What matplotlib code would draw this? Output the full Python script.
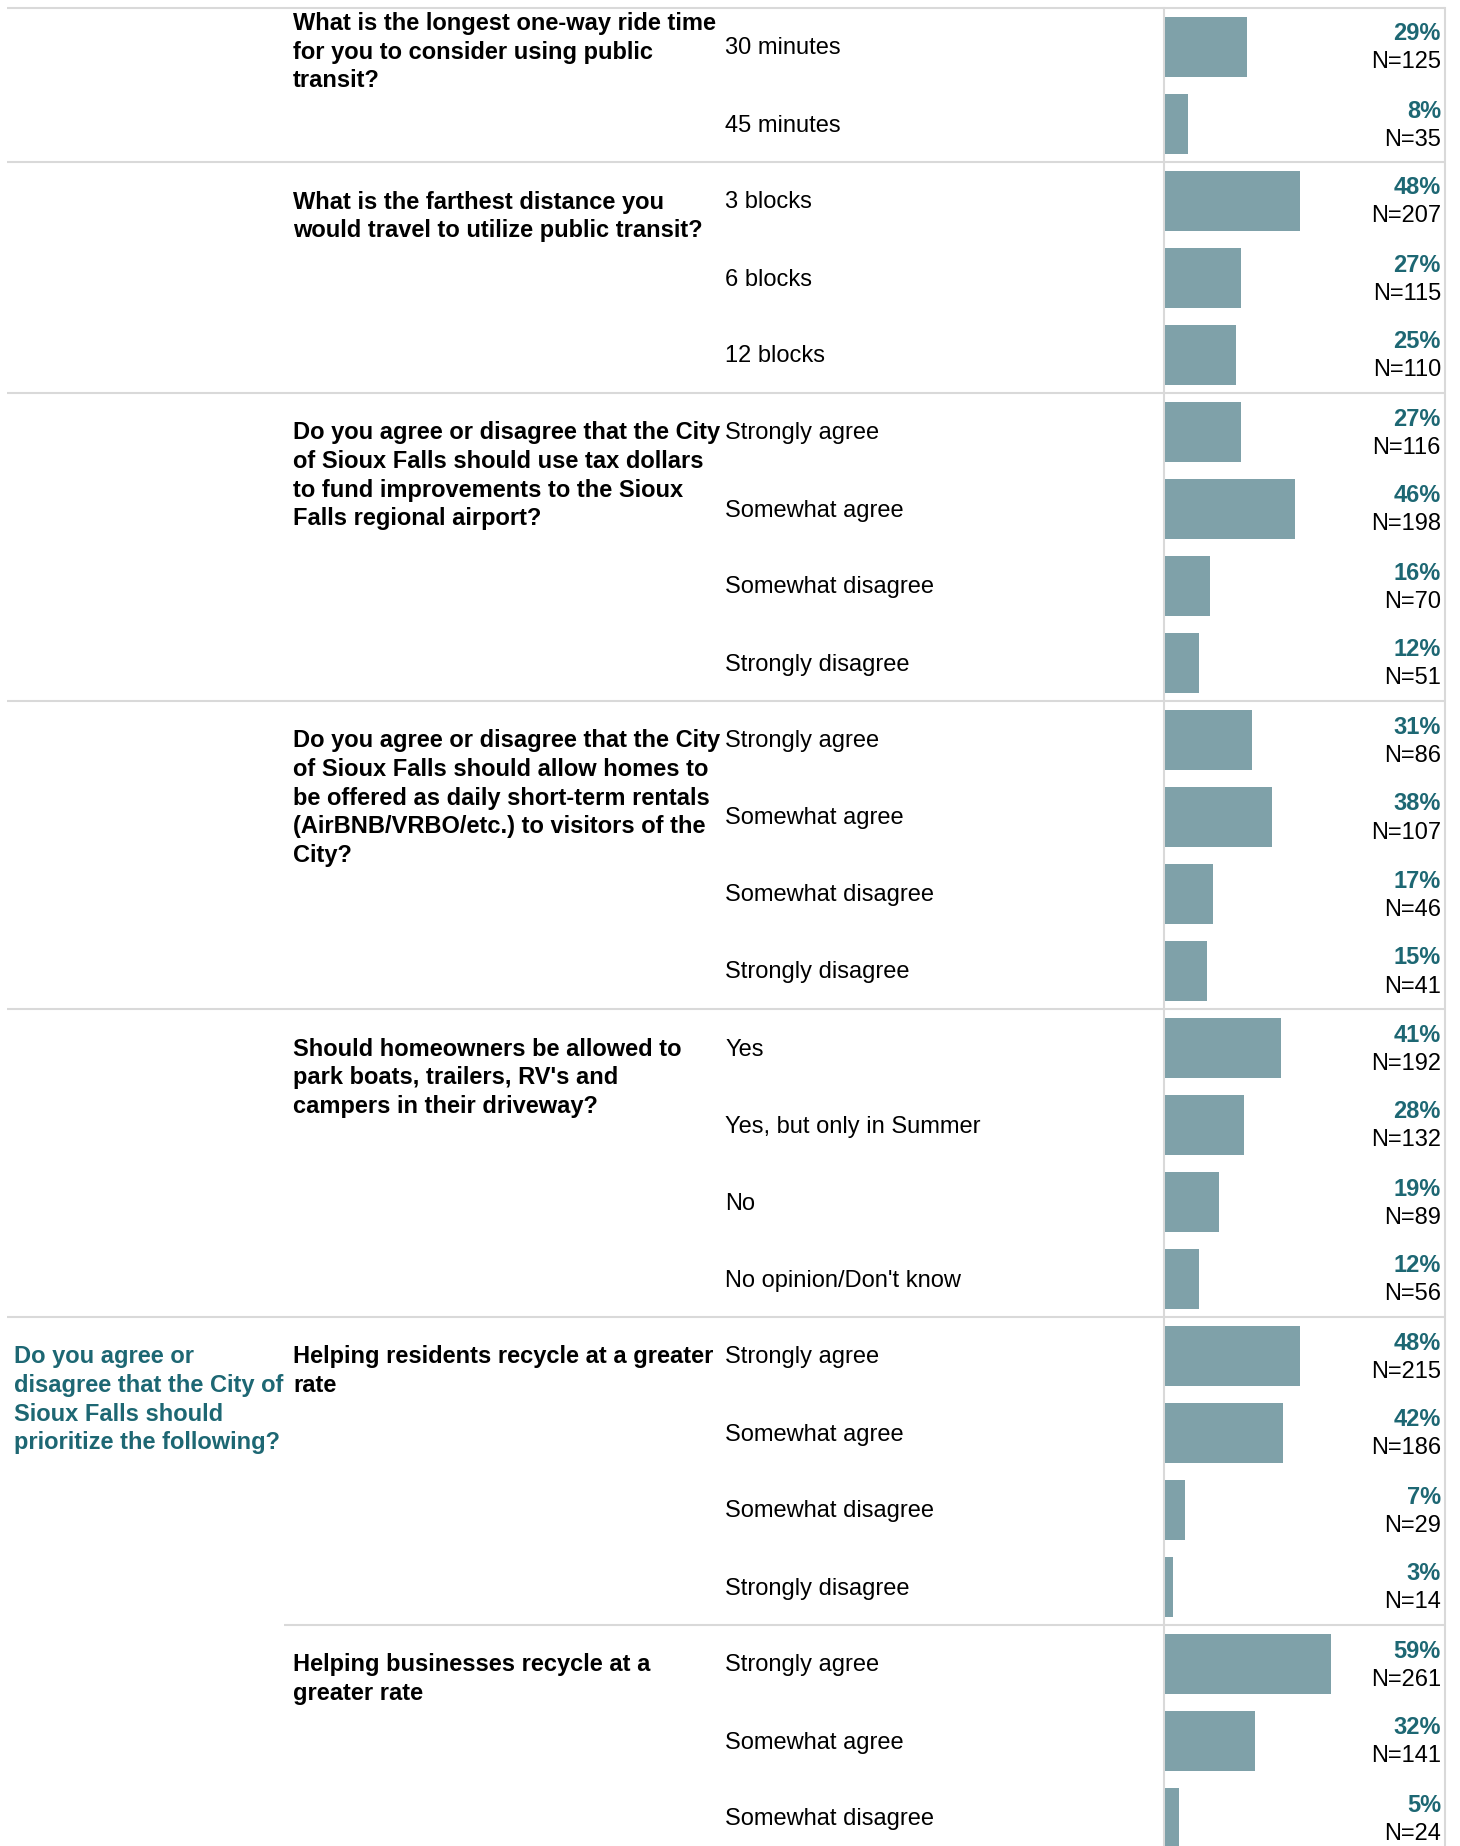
import matplotlib
matplotlib.use("Agg")
import matplotlib.pyplot as plt
import numpy as np

plt.rcParams['font.family'] = ['Liberation Sans', 'DejaVu Sans']

# survey questions, answers, shares and counts (one list per block)
questions = [
    "What is the longest one-way ride time\nfor you to consider using public\ntransit?",
    "What is the farthest distance you\nwould travel to utilize public transit?",
    "Do you agree or disagree that the City\nof Sioux Falls should use tax dollars\nto fund improvements to the Sioux\nFalls regional airport?",
    "Do you agree or disagree that the City\nof Sioux Falls should allow homes to\nbe offered as daily short-term rentals\n(AirBNB/VRBO/etc.) to visitors of the\nCity?",
    "Should homeowners be allowed to\npark boats, trailers, RV's and\ncampers in their driveway?",
    "Helping residents recycle at a greater\nrate",
    "Helping businesses recycle at a\ngreater rate",
]
agree_scale = ["Strongly agree", "Somewhat agree", "Somewhat disagree", "Strongly disagree"]
answers = [
    ["30 minutes", "45 minutes"],
    ["3 blocks", "6 blocks", "12 blocks"],
    agree_scale,
    agree_scale,
    ["Yes", "Yes, but only in Summer", "No", "No opinion/Don't know"],
    agree_scale,
    agree_scale[:3],
]
percents = [
    [29, 8],
    [48, 27, 25],
    [27, 46, 16, 12],
    [31, 38, 17, 15],
    [41, 28, 19, 12],
    [48, 42, 7, 3],
    [59, 32, 5],
]
counts = [
    [125, 35],
    [207, 115, 110],
    [116, 198, 70, 51],
    [86, 107, 46, 41],
    [192, 132, 89, 56],
    [215, 186, 29, 14],
    [261, 141, 24],
]
parent_question = "Do you agree or\ndisagree that the City of\nSioux Falls should\nprioritize the following?"
parent_groups = [5, 6]

BAR = '#7fa1a9'
TEAL = '#1d6773'
GRID = '#d9d9d9'
FS = 17

W, H = 1460, 1846
TOP = 8          # pixel y of first rule
PITCH = 77       # row height in pixels
X_Q, X_A, X_BAR, X_R = 293, 725, 1165, 1445
LINE = 28.6      # text line spacing, pixels


def px(p):
    return p / PITCH


fig = plt.figure(figsize=(W / 100, H / 100), dpi=100)
ax = fig.add_axes([0, 0, 1, 1])
ax.set_xlim(0, W)
ax.set_ylim(px(H - TOP), px(-TOP))
ax.axis('off')

bx = fig.add_axes([X_BAR / W, 0, 282 / W, 1], sharey=ax)
bx.set_xlim(0, 100)
bx.axis('off')


def multiline(x, y0, text, **kw):
    # first baseline so that cap centre sits at y0
    for i, line in enumerate(text.split('\n')):
        ax.text(x, y0 + px(8 + i * LINE), line, va='baseline', fontsize=FS, **kw)


row = 0
starts = []
ax.plot([7, X_R], [0, 0], color=GRID, lw=1.5, solid_capstyle='butt')
for g, q in enumerate(questions):
    n = len(answers[g])
    starts.append(row)
    rows = np.arange(row, row + n) + 0.5
    bx.barh(rows, percents[g], height=60 / PITCH, color=BAR, left=0)
    for r, a, p, c in zip(rows, answers[g], percents[g], counts[g]):
        ax.text(X_A, r + px(8), a, va='baseline', fontsize=FS, color='black')
        ax.text(1441, r + px(-14 + 8), f"{p}%", va='baseline', ha='right',
                fontsize=FS, color=TEAL, fontweight='bold')
        ax.text(1441, r + px(14 + 8), f"N={c}", va='baseline', ha='right',
                fontsize=FS, color='black')
    shift = px(-24.5) if g == 0 else 0
    multiline(X_Q, row + 0.5 + shift, q, fontweight='bold', color='black')
    row += n
    x0 = X_Q - 9 if g + 1 in parent_groups[1:] else 7
    ax.plot([x0, X_R], [row, row], color=GRID, lw=1.5, solid_capstyle='butt')

multiline(14, starts[parent_groups[0]] + 0.5, parent_question,
          fontweight='bold', color=TEAL)

# vertical rules
ax.plot([1164, 1164], [0, px(H)], color=GRID, lw=1.5)
ax.plot([X_R, X_R], [0, px(H)], color=GRID, lw=1.5)

fig.savefig('out.png', dpi=100)
